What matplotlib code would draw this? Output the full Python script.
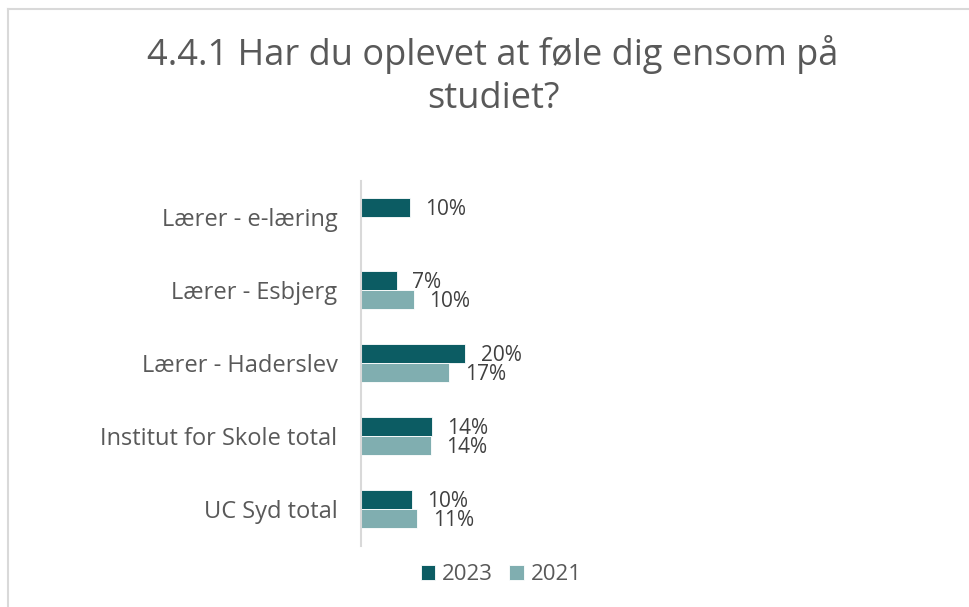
import numpy as np
import matplotlib
matplotlib.use("Agg")
import matplotlib.pyplot as plt
from matplotlib.lines import Line2D

plt.rcParams['font.family'] = ['Open Sans', 'DejaVu Sans']

categories = ["Lærer - e-læring", "Lærer - Esbjerg", "Lærer - Haderslev",
              "Institut for Skole total", "UC Syd total"]
series_names = ["2023", "2021"]
values_2023 = [9.6, 7.0, 20.4, 13.9, 10.0]
values_2021 = [np.nan, 10.3, 17.3, 13.7, 11.0]
title_lines = ["4.4.1 Har du oplevet at føle dig ensom på", "studiet?"]

c2023 = "#0c5c63"
c2021 = "#80aeb0"
text_col = "#595959"
label_col = "#404040"

W, H = 970, 607
fig = plt.figure(figsize=(W / 100, H / 100), dpi=100)
fig.patch.set_facecolor("white")

# chart area border (only top and left visible)
fig.add_artist(Line2D([8.5 / W, 8.5 / W], [1 - 9 / H, 0], transform=fig.transFigure,
                      color="#d9d9d9", lw=1.5))
fig.add_artist(Line2D([8.5 / W, 1], [1 - 9 / H, 1 - 9 / H], transform=fig.transFigure,
                      color="#d9d9d9", lw=1.5))

ax_left, ax_right = 361, 940
ax_top, ax_bottom = 180.5, 545.5
ax = fig.add_axes([ax_left / W, 1 - ax_bottom / H, (ax_right - ax_left) / W,
                   (ax_bottom - ax_top) / H])
px_per_pct = 5.1
ax.set_xlim(0, (ax_right - ax_left) / px_per_pct)
ax.set_ylim(len(categories) - 0.5, -0.5)

y = np.arange(len(categories))
h = 0.26
b1 = ax.barh(y - h / 2, values_2023, height=h, color=c2023, edgecolor="white",
             linewidth=0.6, label=series_names[0])
b2 = ax.barh(y + h / 2, values_2021, height=h, color=c2021, edgecolor="white",
             linewidth=0.6, label=series_names[1])

for vals, off in ((values_2023, -h / 2), (values_2021, h / 2)):
    for yi, v in zip(y, vals):
        if np.isnan(v):
            continue
        ax.annotate(f"{v:.0f}%", xy=(v, yi + off), xytext=(11.2, -1.5),
                    textcoords="offset points", ha="left", va="center",
                    fontsize=15, color=label_col)

ax.set_yticks(y)
ax.set_yticklabels(categories, fontsize=17, color=text_col)
ax.tick_params(axis="y", length=0, pad=17)
ax.set_xticks([])
for s in ("top", "right", "bottom"):
    ax.spines[s].set_visible(False)
ax.spines["left"].set_color("#d9d9d9")
ax.spines["left"].set_linewidth(1.5)
ax.set_facecolor("none")

fig.text(493 / W, 1 - 65 / H, title_lines[0], ha="center", va="baseline",
         fontsize=26, color=text_col)
fig.text(493 / W, 1 - 108 / H, title_lines[1], ha="center", va="baseline",
         fontsize=26, color=text_col)

leg = fig.legend(handles=[b1, b2], labels=series_names, loc="center",
                 bbox_to_anchor=(501 / W, 1 - 575 / H), ncol=2, frameon=False,
                 fontsize=16, labelcolor=text_col, handlelength=0.65,
                 handleheight=0.65, handletextpad=0.3, columnspacing=0.75)

fig.savefig("out.png", dpi=100)
